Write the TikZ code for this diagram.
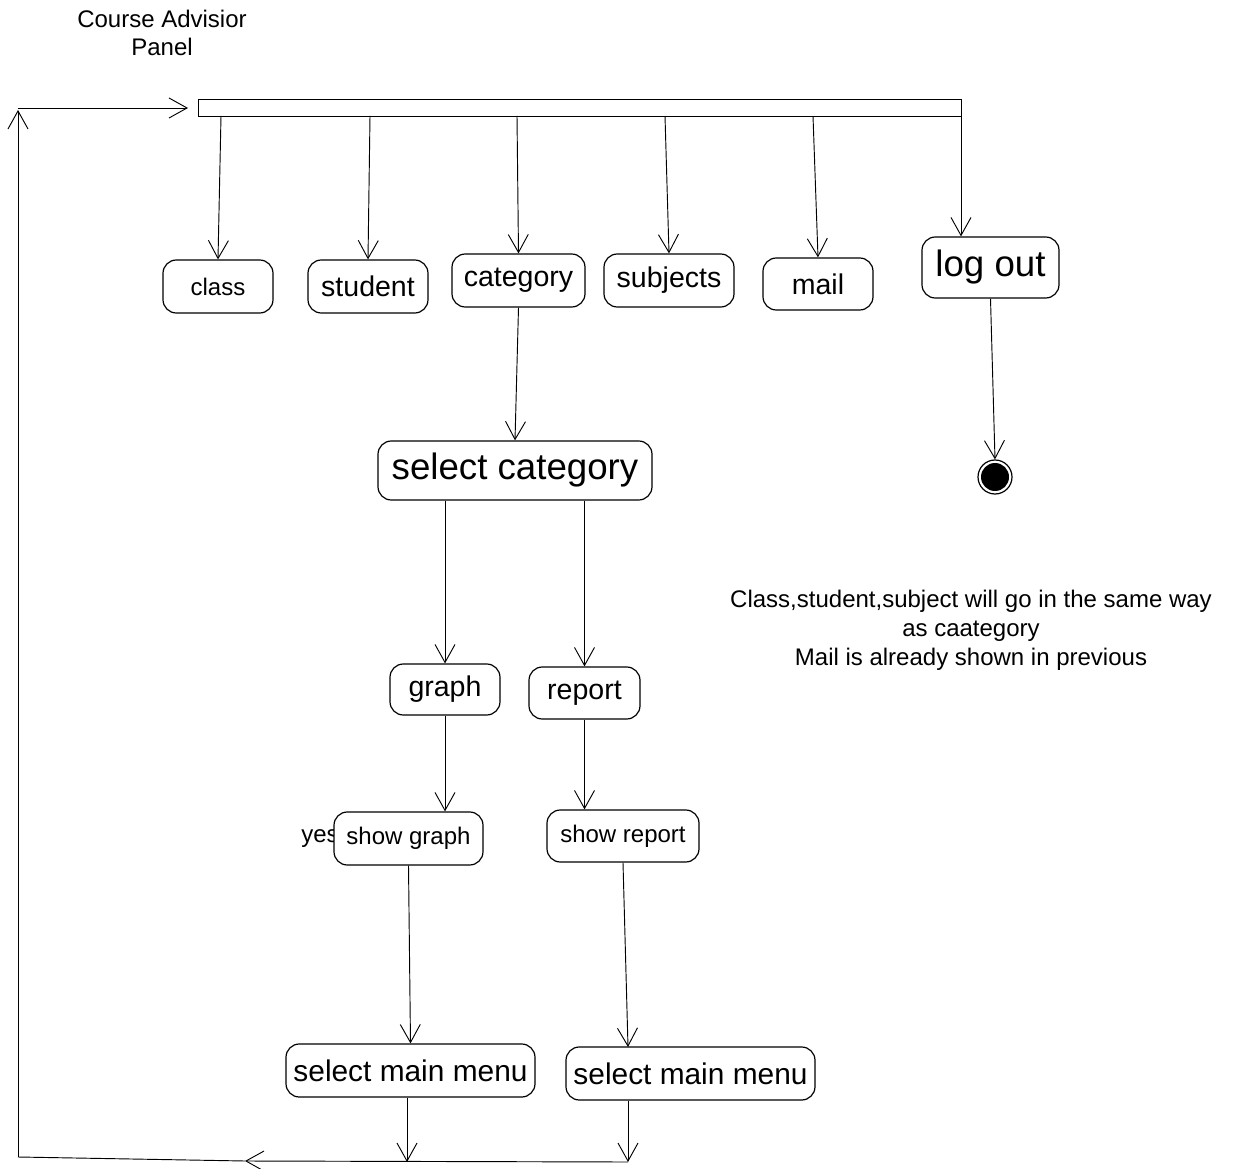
\documentclass[tikz,border=0pt]{standalone}
\usepackage{fontspec}
\setmainfont{Liberation Sans}
\usetikzlibrary{arrows.meta}

\tikzset{
  act/.style 2 args={draw, line width=0.9pt, rounded corners=10pt, fill=white,
    inner sep=0pt, minimum width=#1*0.75pt, minimum height=#2*0.75pt},
  fs/.style={font=\fontsize{18}{21.6}\selectfont},
  fm/.style={font=\fontsize{21.4}{25.7}\selectfont},
  fmm/.style={font=\fontsize{22.4}{26.9}\selectfont},
  fl/.style={font=\fontsize{27.5}{33}\selectfont},
  arr/.style={draw, line width=0.7pt, -{Straight Barb[length=13.5pt, width=15pt, line width=0.7pt]}},
  flow/.style={draw, line width=0.7pt},
}

\begin{document}
\begin{tikzpicture}[x=0.75pt, y=-0.75pt]
\useasboundingbox (0,0) rectangle (1239,1169);

% title
\node[fs, align=center] (title) at (162,33) {Course Advisior\\Panel};

% fork bar
\node[draw, line width=0.8pt, minimum width=763*0.75pt, minimum height=17*0.75pt, inner sep=0pt, anchor=north west] (bar) at (198,99) {};

% activities
\node[act={110}{53}, fs] (class)    at (218,286.5) {class};
\node[act={120}{53}, fm] (student)  at (368,286.5) {student};
\node[act={133}{53}, fm] (category) at (518.5,280.5) {category};
\node[act={130}{53}, fm] (subjects) at (669,280.5) {subjects};
\node[act={110}{52}, fm] (mail)     at (818,284) {mail};
\node[act={137}{61}, fl] (logout)   at (990.5,267.5) {log out};

\node[act={274}{59}, fl] (selcat)   at (515,470.5) {select category};
\node[act={110}{51}, fm] (graph)    at (445,689.5) {graph};
\node[act={111}{52}, fm] (report)   at (584.5,693) {report};

\node[fs, anchor=west, inner sep=0pt] (yes) at (301,839) {yes};
\node[act={149}{53}, fs] (showgraph)  at (408.5,838.5) {show graph};
\node[act={152}{52}, fs] (showreport) at (623,836) {show report};

\node[act={249}{53}, fmm] (menu1) at (410.5,1070.5) {select main menu};
\node[act={249}{53}, fmm] (menu2) at (690.5,1073.5) {select main menu};

% final state
\node[circle, draw, line width=0.9pt, minimum size=34*0.75pt, inner sep=0pt] (final) at (995,477) {};
\fill (final.center) circle (14);

% note
\node[fs, align=center] (note) at (971,630) {Class,student,subject will go in the same way\\as caategory\\Mail is already shown in previous};

% fork outputs
\coordinate (b1) at (221,116);
\coordinate (b2) at (370,116);
\coordinate (b3) at (517,116);
\coordinate (b4) at (665,116);
\coordinate (b5) at (813,116);
\coordinate (b6) at (961,116);
\draw[arr] (b1) -- (class.north);
\draw[arr] (b2) -- (student.north);
\draw[arr] (b3) -- (category.north);
\draw[arr] (b4) -- (subjects.north);
\draw[arr] (b5) -- (mail.north);
\draw[arr] (b6) -- (logout.north -| b6);

\draw[arr] (category.south) -- (selcat.north);
\draw[arr] (logout.south) -- (final.north);

\draw[arr] (selcat.south -| graph.north) -- (graph.north);
\draw[arr] (selcat.south -| report.north) -- (report.north);

\draw[arr] (graph.south) -- (graph.south |- showgraph.north);
\draw[arr] (report.south) -- (report.south |- showreport.north);

\coordinate (m2in) at (628,1047);
\draw[arr] (showgraph.south) -- (menu1.north);
\draw[arr] (showreport.south) -- (m2in);

% join back to the panel
\coordinate (j1) at (407,1162);
\coordinate (j2) at (628,1162);
\coordinate (mid) at (245,1161);
\coordinate (lb) at (18,1157);
\coordinate (lt) at (18,110);
\coordinate (ltop) at (18,108);
\coordinate (ba) at (188,108);
\draw[arr] (j1 |- menu1.south) -- (j1);
\draw[arr] (j2 |- menu2.south) -- (j2);
\draw[arr] (j2) -- (mid);
\draw[flow] (mid) -- (lb);
\draw[arr] (lb) -- (lt);
\draw[arr] (ltop) -- (ba);
\end{tikzpicture}
\end{document}
